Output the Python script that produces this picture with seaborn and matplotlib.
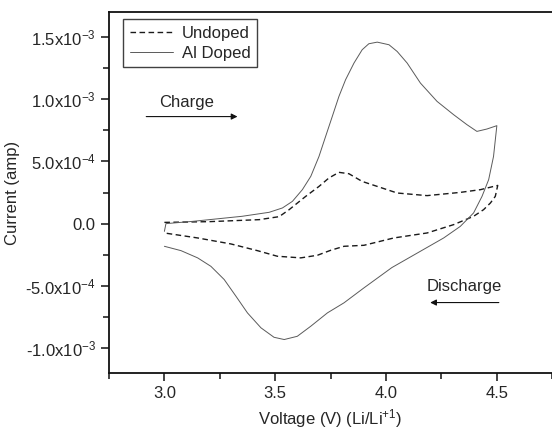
import pandas as pd
import seaborn as sns
import matplotlib.pyplot as plt
from matplotlib.ticker import MultipleLocator, FuncFormatter

sns.set_theme(style='ticks')
plt.rcParams['font.family'] = ['Liberation Sans', 'DejaVu Sans']
plt.rcParams['mathtext.default'] = 'regular'

# cyclic voltammetry loops (V, A x 1e-4)
al_voltage = [3.000, 3.007, 3.126, 3.351, 3.473, 3.533, 3.578, 3.623, 3.661,
              3.698, 3.728, 3.758, 3.788, 3.818, 3.856, 3.893, 3.923, 3.961,
              4.014, 4.051, 4.096, 4.156, 4.231, 4.306, 4.366, 4.411, 4.456,
              4.501,
              4.486, 4.464, 4.434, 4.396, 4.336, 4.261, 4.027, 3.901, 3.811,
              3.736, 3.661, 3.600, 3.541, 3.495, 3.436, 3.375, 3.323, 3.270,
              3.210, 3.150, 3.075, 3.000]
al_current = [-0.62, 0.00, 0.18, 0.59, 0.91, 1.26, 1.79, 2.73, 3.80,
              5.40, 7.01, 8.61, 10.22, 11.56, 12.90, 13.97, 14.45, 14.58,
              14.37, 13.83, 12.90, 11.29, 9.82, 8.75, 7.95, 7.41, 7.60,
              7.87,
              5.40, 3.53, 2.19, 0.86, -0.22, -1.15, -3.53, -5.16, -6.36,
              -7.17, -8.24, -9.05, -9.31, -9.13, -8.37, -7.17, -5.83, -4.49,
              -3.43, -2.75, -2.17, -1.82]

un_voltage = [3.000, 3.203, 3.428, 3.518, 3.563, 3.638, 3.698, 3.743, 3.788,
              3.833, 3.893, 3.968, 4.051, 4.186, 4.336, 4.427, 4.505,
              4.494, 4.472, 4.441, 4.396, 4.306, 4.186, 4.036, 3.901, 3.811,
              3.751, 3.691, 3.616, 3.510, 3.420, 3.300, 3.150, 3.000]
un_current = [0.10, 0.16, 0.32, 0.56, 1.12, 2.19, 2.99, 3.67, 4.12,
              4.01, 3.39, 2.95, 2.46, 2.25, 2.51, 2.73, 3.07,
              2.19, 1.66, 1.12, 0.59, -0.08, -0.75, -1.15, -1.74, -1.82,
              -2.14, -2.54, -2.75, -2.62, -2.17, -1.63, -1.15, -0.75]

df_al = pd.DataFrame({'voltage': al_voltage,
                      'current': [c * 1e-4 for c in al_current]})
df_un = pd.DataFrame({'voltage': un_voltage,
                      'current': [c * 1e-4 for c in un_current]})

fig = plt.figure(figsize=(5.52, 4.29), dpi=100)
ax = fig.add_axes([0.1975, 0.1305, 0.8025, 0.8415])

sns.lineplot(data=df_un, x='voltage', y='current', sort=False, estimator=None,
             color='#1a1a1a', lw=1.0, ax=ax, label='Undoped')
ax.lines[-1].set_dashes((4, 2.5))
sns.lineplot(data=df_al, x='voltage', y='current', sort=False, estimator=None,
             color='#5a5a5a', lw=0.7, ax=ax, label='Al Doped')


def sci_fmt(v, pos):
    if abs(v) < 1e-12:
        return '0.0'
    exp = int(f'{v:e}'.split('e')[1])
    mant = v / 10 ** exp
    return f'{mant:.1f}x10$^{{{exp}}}$'


ax.set_xlim(2.75, 4.75)
ax.set_ylim(-1.2e-3, 1.7e-3)
ax.xaxis.set_major_locator(MultipleLocator(0.5))
ax.xaxis.set_minor_locator(MultipleLocator(0.25))
ax.yaxis.set_major_locator(MultipleLocator(5e-4))
ax.yaxis.set_minor_locator(MultipleLocator(2.5e-4))
ax.yaxis.set_major_formatter(FuncFormatter(sci_fmt))
ax.xaxis.set_major_formatter(FuncFormatter(lambda v, p: f'{v:.1f}'))
ax.tick_params(which='major', length=6, width=1.1, labelsize=12, color='#111')
ax.tick_params(which='minor', length=4, width=1.1, color='#111')
for side in ['left', 'bottom', 'top']:
    ax.spines[side].set_linewidth(1.3)
    ax.spines[side].set_color('#111')
ax.spines['right'].set_visible(False)

ax.set_xlabel('Voltage (V) (Li/Li$^{+1}$)', fontsize=12, labelpad=4)
ax.set_ylabel('Current (amp)', fontsize=12, labelpad=4)

ax.annotate('', xy=(3.33, 8.6e-4), xytext=(2.918, 8.6e-4),
            arrowprops=dict(arrowstyle='-|>', color='#111', lw=0.8,
                            mutation_scale=9, shrinkA=0, shrinkB=0))
ax.text(3.10, 9.7e-4, 'Charge', fontsize=12, ha='center', va='center')
ax.annotate('', xy=(4.20, -6.34e-4), xytext=(4.51, -6.34e-4),
            arrowprops=dict(arrowstyle='-|>', color='#111', lw=0.8,
                            mutation_scale=9, shrinkA=0, shrinkB=0))
ax.text(4.355, -5.06e-4, 'Discharge', fontsize=12, ha='center', va='center')

leg = ax.legend(loc='upper left', bbox_to_anchor=(0.032, 0.981), fontsize=12,
                frameon=True, fancybox=False, handlelength=2.6,
                borderpad=0.4, labelspacing=0.3, handletextpad=0.5,
                borderaxespad=0)
leg.get_frame().set_edgecolor('#111')
leg.get_frame().set_linewidth(1.0)

fig.savefig('out.png', dpi=100)
